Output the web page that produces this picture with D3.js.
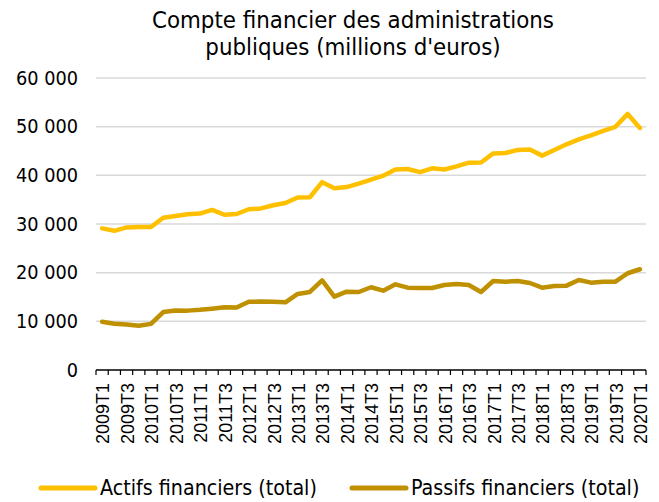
<!DOCTYPE html>
<html>
<head>
<meta charset="utf-8">
<script src="https://cdn.jsdelivr.net/npm/d3@7"></script>
<style>
  html, body { margin: 0; padding: 0; background: #fff; }
  svg { display: block; }
</style>
</head>
<body>
<svg id="chart" width="659" height="502"></svg>
<script>
const titleLines = ["Compte financier des administrations", "publiques (millions d'euros)"];

const categories = [
  "2009T1","2009T2","2009T3","2009T4",
  "2010T1","2010T2","2010T3","2010T4",
  "2011T1","2011T2","2011T3","2011T4",
  "2012T1","2012T2","2012T3","2012T4",
  "2013T1","2013T2","2013T3","2013T4",
  "2014T1","2014T2","2014T3","2014T4",
  "2015T1","2015T2","2015T3","2015T4",
  "2016T1","2016T2","2016T3","2016T4",
  "2017T1","2017T2","2017T3","2017T4",
  "2018T1","2018T2","2018T3","2018T4",
  "2019T1","2019T2","2019T3","2019T4",
  "2020T1"
];

const tickLabels = [
  "2009T1","2009T3","2010T1","2010T3","2011T1","2011T3","2012T1","2012T3",
  "2013T1","2013T3","2014T1","2014T3","2015T1","2015T3","2016T1","2016T3",
  "2017T1","2017T3","2018T1","2018T3","2019T1","2019T3","2020T1"
];

const yTicks = [0, 10000, 20000, 30000, 40000, 50000, 60000];

const seriesNames = ["Actifs financiers (total)", "Passifs financiers (total)"];

const actifs = [29100, 28600, 29300, 29400, 29400, 31300, 31650, 32000, 32150, 32900,
  31900, 32050, 33030, 33200, 33850, 34300, 35450, 35500, 38600, 37340,
  37580, 38300, 39100, 39930, 41200, 41300, 40650, 41450, 41200, 41850,
  42600, 42650, 44500, 44600, 45220, 45320, 44050, 45220, 46380, 47370,
  48200, 49150, 49980, 52620, 49740];

const passifs = [9930, 9500, 9350, 9080, 9480, 11900, 12230, 12200, 12370, 12600,
  12880, 12850, 14020, 14060, 14020, 13910, 15620, 16030, 18400, 15070,
  16100, 16030, 17000, 16300, 17600, 16920, 16850, 16850, 17470, 17680,
  17470, 16030, 18290, 18150, 18290, 17880, 16920, 17270, 17330, 18500,
  17950, 18150, 18150, 19880, 20700];

const colors = ["#FFC000", "#BF9000"];
const FONT = "'DejaVu Sans Condensed', 'Liberation Sans', Arial, sans-serif";

const svg = d3.select("#chart");
const x = d3.scaleBand().domain(categories).range([96, 646]).paddingInner(0).paddingOuter(0);
const y = d3.scaleLinear().domain([0, 60000]).range([370, 78]);
const fmt = v => d3.format(",")(v).replace(/,/g, " ");

// scale the font-size of a selection so that its reference node spans `target` px
function fitTo(sel, node, target) {
  const fs = parseFloat(node.style.fontSize);
  const w = node.getComputedTextLength();
  sel.style("font-size", (fs * target / w).toFixed(2) + "px");
}

// title
const title = svg.append("g").selectAll("text").data(titleLines).join("text")
  .attr("x", 353).attr("y", (d, i) => 28 + i * 27)
  .attr("text-anchor", "middle")
  .style("font-family", FONT).style("font-size", "20px").attr("fill", "#000")
  .text(d => d);
fitTo(title, title.node(), 402);

// grid
svg.append("g").selectAll("line").data(yTicks.filter(v => v > 0)).join("line")
  .attr("x1", 96).attr("x2", 646)
  .attr("y1", d => y(d)).attr("y2", d => y(d))
  .attr("stroke", "#d9d9d9").attr("stroke-width", 1.5);

// y axis labels
const yAxis = d3.axisLeft(y).tickValues(yTicks).tickFormat(fmt).tickSize(0).tickPadding(0);
const yg = svg.append("g").attr("transform", "translate(78,0)").call(yAxis);
yg.select(".domain").remove();
const ylabs = yg.selectAll("text").style("font-family", FONT).style("font-size", "20px").attr("fill", "#000");
fitTo(ylabs, ylabs.filter(d => d === 60000).node(), 62);

// x axis
const xg = svg.append("g").attr("transform", "translate(0,370)");
xg.append("line").attr("x1", 96).attr("x2", 646).attr("stroke", "#000").attr("stroke-width", 1.5);
const boundaries = categories.map(c => x(c)).concat([x(categories[categories.length - 1]) + x.bandwidth()]);
xg.selectAll("line.tk").data(boundaries).join("line").attr("class", "tk")
  .attr("x1", d => d).attr("x2", d => d).attr("y1", 0).attr("y2", 5)
  .attr("stroke", "#000").attr("stroke-width", 1.2);
xg.selectAll("text").data(tickLabels).join("text")
  .attr("transform", d => `translate(${x(d) + x.bandwidth() / 2 + 1},13) rotate(-90)`)
  .attr("text-anchor", "end").attr("dy", "0.35em")
  .style("font-family", "'Liberation Sans', Arial, sans-serif").style("font-size", "18px").attr("fill", "#000")
  .text(d => d);

// lines
const line = d3.line().x((d, i) => x(categories[i]) + x.bandwidth() / 2).y(d => y(d));
[actifs, passifs].forEach((s, k) => {
  svg.append("path").datum(s).attr("d", line)
    .attr("fill", "none").attr("stroke", colors[k]).attr("stroke-width", 4.5)
    .attr("stroke-linejoin", "round").attr("stroke-linecap", "round");
});

// legend
const legX = [41, 352];
const lg = svg.append("g").selectAll("g").data(seriesNames).join("g")
  .attr("transform", (d, i) => `translate(${legX[i]},488)`);
lg.append("line").attr("x1", 0).attr("x2", 54).attr("y1", 0).attr("y2", 0)
  .attr("stroke", (d, i) => colors[i]).attr("stroke-width", 5).attr("stroke-linecap", "round");
const lt = lg.append("text").attr("x", 59).attr("dy", "0.35em")
  .style("font-family", FONT).style("font-size", "20px").attr("fill", "#000")
  .text(d => d);
fitTo(lt, lt.node(), 217);
</script>
</body>
</html>
